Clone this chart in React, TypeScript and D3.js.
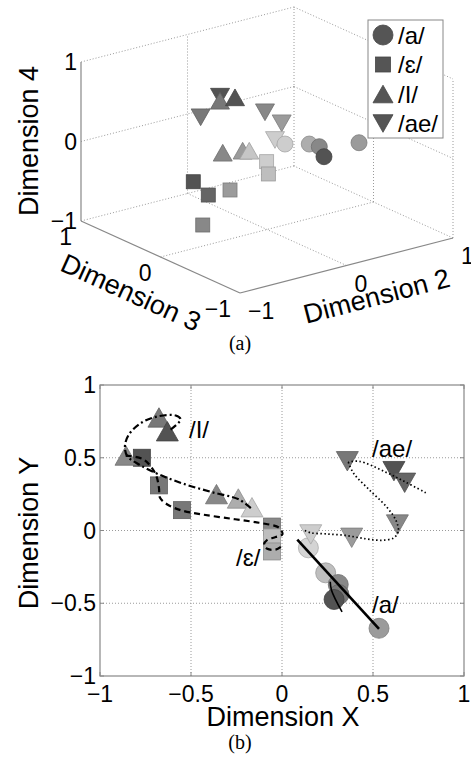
import * as d3 from "d3";
import React from "react";

// panel (b): 2-D projection, one array per vowel
const aX = [0.145, 0.24, 0.309, 0.313, 0.286, 0.533];
const aY = [-0.119, -0.291, -0.371, -0.44, -0.474, -0.672];
const aLevel = [0.0, 0.16, 0.54, 0.66, 0.92, 0.41];

const eX = [-0.77, -0.676, -0.55, -0.055, -0.055, -0.055];
const eY = [0.5, 0.31, 0.14, 0.027, -0.048, -0.144];
const eLevel = [0.92, 0.66, 0.66, 0.54, 0.16, 0.28];

const iX = [-0.676, -0.63, -0.857, -0.36, -0.24, -0.165];
const iY = [0.777, 0.682, 0.515, 0.25, 0.22, 0.16];
const iLevel = [0.66, 0.92, 0.54, 0.54, 0.28, 0.05];

const aeX = [0.359, 0.615, 0.674, 0.634, 0.158, 0.383];
const aeY = [0.476, 0.408, 0.328, 0.041, -0.027, -0.05];
const aeLevel = [0.66, 0.92, 0.79, 0.54, 0.05, 0.41];

// fitted trajectories
const aPath = [[0.084, -0.062], [0.533, -0.676]];
const aHook = [[0.265, -0.352], [0.272, -0.41], [0.33, -0.56]];
const ePath = [
  [-0.859, 0.515], [-0.768, 0.493], [-0.722, 0.442], [-0.69, 0.373], [-0.676, 0.293],
  [-0.67, 0.225], [-0.63, 0.179], [-0.557, 0.14], [-0.438, 0.11], [-0.273, 0.08],
  [-0.126, 0.053], [-0.016, 0.019], [0.002, -0.027], [-0.035, -0.045], [-0.081, -0.065],
  [-0.099, -0.096], [-0.081, -0.126], [-0.035, -0.131], [-0.002, -0.108],
];
const iPath = [
  [-0.612, 0.694], [-0.557, 0.763], [-0.584, 0.79], [-0.676, 0.786], [-0.768, 0.744],
  [-0.841, 0.66], [-0.863, 0.579], [-0.85, 0.511], [-0.786, 0.454], [-0.676, 0.385],
  [-0.529, 0.316], [-0.383, 0.263], [-0.236, 0.213], [-0.163, 0.144],
];
const aePathUpper = [[0.79, 0.259], [0.68, 0.332], [0.57, 0.401], [0.423, 0.476], [0.364, 0.47]];
const aePathLower = [
  [0.364, 0.47], [0.395, 0.39], [0.478, 0.282], [0.579, 0.156], [0.628, 0.064],
  [0.639, -0.005], [0.615, -0.05], [0.551, -0.067], [0.46, -0.057], [0.35, -0.034],
  [0.24, -0.023], [0.158, -0.016], [0.121, 0.002],
];

// panel (a): 3-D (dimension 2, 3, 4)
const a3d2 = [-0.055, 0.173, 0.267, 0.311, 0.64];
const a3d3 = [-0.3, -0.3, -0.3, -0.3, -0.3];
const a3d4 = [0.23, 0.151, 0.085, -0.056, 0.006];
const a3Level = [0.05, 0.28, 0.54, 0.92, 0.41];

const e3d2 = [0.146, 0.162, -0.543, -0.402, -0.198, -0.454];
const e3d3 = [0.2, 0.2, 0.2, 0.2, 0.2, 0.2];
const e3d4 = [-0.288, -0.448, -0.302, -0.518, -0.525, -0.877];
const e3Level = [0.05, 0.16, 0.92, 0.79, 0.41, 0.54];

const i3d2 = [-0.143, -0.002, -0.117, 0.07, 0.132];
const i3d3 = [0.4, 0.4, 0.4, 0.4, 0.4];
const i3d4 = [0.488, 0.482, -0.175, -0.214, -0.236];
const i3Level = [0.66, 0.92, 0.54, 0.41, 0.1];

const ae3d2 = [-0.441, -0.623, -0.019, 0.138, 0.075];
const ae3d3 = [0, 0, 0, 0, 0];
const ae3d4 = [0.823, 0.627, 0.481, 0.288, 0.1];
const ae3Level = [0.92, 0.66, 0.54, 0.41, 0.05];

const ticks2D = [-1, -0.5, 0, 0.5, 1];
const ticks3D = [-1, 0, 1];
const legendLabels = ["/a/", "/\u025B/", "/I/", "/ae/"];
const kinds = ["circle", "square", "up", "down"];

const sans = "'Liberation Sans', Arial, Helvetica, sans-serif";
const serif = "'Liberation Serif', 'Times New Roman', serif";
const fmt = (v: number) => (v < 0 ? "\u2212" + String(-v) : String(v));

const shade = d3.scaleLinear<string>().domain([0, 1]).range(["#d4d4d4", "#484848"]);

function Marker({ kind, x, y, size, fill }: any) {
  const stroke = d3.color(fill)!.darker(0.6).formatHex();
  const w = size, h = size * 0.88;
  if (kind === "circle") return <circle cx={x} cy={y} r={size / 2} fill={fill} stroke={stroke} strokeWidth={0.8} />;
  if (kind === "square")
    return <rect x={x - size / 2} y={y - size / 2} width={size} height={size} fill={fill} stroke={stroke} strokeWidth={0.8} />;
  const pts =
    kind === "up"
      ? [[x, y - h / 2], [x + w / 2, y + h / 2], [x - w / 2, y + h / 2]]
      : [[x, y + h / 2], [x + w / 2, y - h / 2], [x - w / 2, y - h / 2]];
  return <polygon points={pts.map((p) => p.join(",")).join(" ")} fill={fill} stroke={stroke} strokeWidth={0.8} />;
}

export default function App() {
  // ---------- panel (b) ----------
  const x = d3.scaleLinear().domain([-1, 1]).range([100, 464]);
  const y = d3.scaleLinear().domain([-1, 1]).range([676, 385]);
  const line = d3
    .line<number[]>()
    .x((d) => x(d[0]))
    .y((d) => y(d[1]))
    .curve(d3.curveCatmullRom.alpha(0.5));

  const series2D = [
    { kind: "circle", xs: aX, ys: aY, lv: aLevel, size: 20 },
    { kind: "square", xs: eX, ys: eY, lv: eLevel, size: 17 },
    { kind: "up", xs: iX, ys: iY, lv: iLevel, size: 22 },
    { kind: "down", xs: aeX, ys: aeY, lv: aeLevel, size: 22 },
  ];

  // ---------- panel (a) ----------
  const o = [267, 150];
  const p2x = d3.scaleLinear().domain([-1, 1]).range([-106.5, 106.5]);
  const p2y = d3.scaleLinear().domain([-1, 1]).range([27.5, -27.5]);
  const p3x = d3.scaleLinear().domain([-1, 1]).range([79.5, -79.5]);
  const p3y = d3.scaleLinear().domain([-1, 1]).range([36, -36]);
  const p4y = d3.scaleLinear().domain([-1, 1]).range([79.5, -79.5]);
  const proj = (a: number, b: number, c: number) => [o[0] + p2x(a) + p3x(b), o[1] + p2y(a) + p3y(b) + p4y(c)];

  const series3D = [
    { kind: "square", d2: e3d2, d3: e3d3, d4: e3d4, lv: e3Level, size: 14 },
    { kind: "down", d2: ae3d2, d3: ae3d3, d4: ae3d4, lv: ae3Level, size: 19 },
    { kind: "up", d2: i3d2, d3: i3d3, d4: i3d4, lv: i3Level, size: 19 },
    { kind: "circle", d2: a3d2, d3: a3d3, d4: a3d4, lv: a3Level, size: 16 },
  ];

  // grid segments on floor and two back walls
  const grid: number[][][] = [];
  ticks3D.forEach((t) => {
    if (t > -1) grid.push([proj(t, -1, -1), proj(t, 1, -1)]); // floor, along dim 3
    if (t > -1) grid.push([proj(-1, t, -1), proj(1, t, -1)]); // floor, along dim 2
    if (t > -1) grid.push([proj(-1, 1, t), proj(1, 1, t)]); // back wall dim3=1
    if (t > -1) grid.push([proj(1, 1, t), proj(1, -1, t)]); // back wall dim2=1
    if (t > -1) grid.push([proj(t, 1, -1), proj(t, 1, 1)]); // verticals on wall dim3=1
    if (t < 1) grid.push([proj(1, t, -1), proj(1, t, 1)]); // verticals on wall dim2=1
  });
  const axes3 = [
    [proj(-1, 1, -1), proj(-1, 1, 1)],
    [proj(-1, 1, -1), proj(-1, -1, -1)],
    [proj(-1, -1, -1), proj(1, -1, -1)],
  ];
  const seg = (s: number[][]) => ({ x1: s[0][0], y1: s[0][1], x2: s[1][0], y2: s[1][1] });

  return (
    <svg width={471} height={757} style={{ position: "absolute", left: 0, top: 0, background: "#fff" }} fontFamily={sans}>
      {/* ================= (a) ================= */}
      {grid.map((s, i) => (
        <line key={"g" + i} {...seg(s)} stroke="#9a9a9a" strokeWidth={1} strokeDasharray="1,2" />
      ))}
      {axes3.map((s, i) => (
        <line key={"ax" + i} {...seg(s)} stroke="#888" strokeWidth={1.2} />
      ))}
      {series3D.map((s) =>
        s.d2.map((v, i) => {
          const [px, py] = proj(v, s.d3[i], s.d4[i]);
          return <Marker key={s.kind + "3" + i} kind={s.kind} x={px} y={py} size={s.size} fill={shade(s.lv[i])} />;
        })
      )}
      {ticks3D.map((t) => {
        const [px, py] = proj(-1, 1, t);
        return (
          <text key={"t4" + t} x={px - 4} y={py} textAnchor="end" dominantBaseline="central" fontSize={23}>
            {fmt(t)}
          </text>
        );
      })}
      {ticks3D.map((t) => {
        const [px, py] = proj(-1, t, -1);
        return (
          <text key={"t3" + t} x={px - 9} y={py + 24} textAnchor="end" fontSize={23}>
            {fmt(t)}
          </text>
        );
      })}
      {ticks3D.map((t) => {
        const [px, py] = proj(t, -1, -1);
        return (
          <text key={"t2" + t} x={px + 8} y={py + 26} textAnchor="start" fontSize={23}>
            {fmt(t)}
          </text>
        );
      })}
      <text transform="translate(38,141) rotate(-90)" textAnchor="middle" fontSize={27}>
        Dimension 4
      </text>
      <text transform="translate(127,301) rotate(24.4)" textAnchor="middle" fontSize={27}>
        Dimension 3
      </text>
      <text transform="translate(379,305) rotate(-14.5)" textAnchor="middle" fontSize={27}>
        Dimension 2
      </text>
      <text x={240} y={350} textAnchor="middle" fontSize={20} fontFamily={serif}>
        (a)
      </text>

      {/* legend */}
      <rect x={368} y={20} width={75} height={118} fill="#fff" stroke="#888" strokeWidth={1} />
      {legendLabels.map((lab, i) => {
        const cy = 35 + i * 29.5;
        return (
          <g key={"lg" + i}>
            <Marker kind={kinds[i]} x={383} y={cy} size={i === 1 ? 15 : 20} fill="#555" />
            <text x={398} y={cy} dominantBaseline="central" fontSize={24}>
              {lab}
            </text>
          </g>
        );
      })}

      {/* ================= (b) ================= */}
      {ticks2D.filter((t) => Math.abs(t) < 1).map((t) => (
        <g key={"gb" + t}>
          <line x1={x(t)} x2={x(t)} y1={y(-1)} y2={y(1)} stroke="#9a9a9a" strokeWidth={1} strokeDasharray="1,2" />
          <line x1={x(-1)} x2={x(1)} y1={y(t)} y2={y(t)} stroke="#9a9a9a" strokeWidth={1} strokeDasharray="1,2" />
        </g>
      ))}
      <rect x={x(-1)} y={y(1)} width={x(1) - x(-1)} height={y(-1) - y(1)} fill="none" stroke="#888" strokeWidth={1.2} />
      {ticks2D.map((t) => (
        <g key={"tk" + t}>
          <line x1={x(t)} x2={x(t)} y1={y(-1)} y2={y(-1) - 4} stroke="#888" />
          <line x1={x(t)} x2={x(t)} y1={y(1)} y2={y(1) + 4} stroke="#888" />
          <line x1={x(-1)} x2={x(-1) + 4} y1={y(t)} y2={y(t)} stroke="#888" />
          <line x1={x(1)} x2={x(1) - 4} y1={y(t)} y2={y(t)} stroke="#888" />
          <text x={x(t)} y={702} textAnchor="middle" fontSize={23}>
            {fmt(t)}
          </text>
          <text x={96} y={y(t)} textAnchor="end" dominantBaseline="central" fontSize={23}>
            {fmt(t)}
          </text>
        </g>
      ))}
      {series2D.map((s) =>
        s.xs.map((v, i) => (
          <Marker key={s.kind + "2" + i} kind={s.kind} x={x(v)} y={y(s.ys[i])} size={s.size} fill={shade(s.lv[i])} />
        ))
      )}
      <path d={line(aPath)!} fill="none" stroke="#000" strokeWidth={2.6} />
      <path d={line(aHook)!} fill="none" stroke="#000" strokeWidth={1.6} />
      <path d={line(ePath)!} fill="none" stroke="#000" strokeWidth={2.2} strokeDasharray="6,4" />
      <path d={line(iPath)!} fill="none" stroke="#000" strokeWidth={2.2} strokeDasharray="7,3,2,3" />
      <path d={line(aePathUpper)!} fill="none" stroke="#000" strokeWidth={1.7} strokeDasharray="1.5,2.5" />
      <path d={line(aePathLower)!} fill="none" stroke="#000" strokeWidth={1.7} strokeDasharray="1.5,2.5" />
      <text x={x(-0.511)} y={y(0.639)} fontSize={24}>/I/</text>
      <text x={x(0.495)} y={y(0.502)} fontSize={24}>/ae/</text>
      <text x={x(-0.253)} y={y(-0.247)} fontSize={24}>/{"\u025B"}/</text>
      <text x={x(0.495)} y={y(-0.564)} fontSize={24}>/a/</text>
      <text x={283} y={726} textAnchor="middle" fontSize={27}>
        Dimension X
      </text>
      <text transform="translate(38,533) rotate(-90)" textAnchor="middle" fontSize={27}>
        Dimension Y
      </text>
      <text x={240} y={749} textAnchor="middle" fontSize={20} fontFamily={serif}>
        (b)
      </text>
    </svg>
  );
}
